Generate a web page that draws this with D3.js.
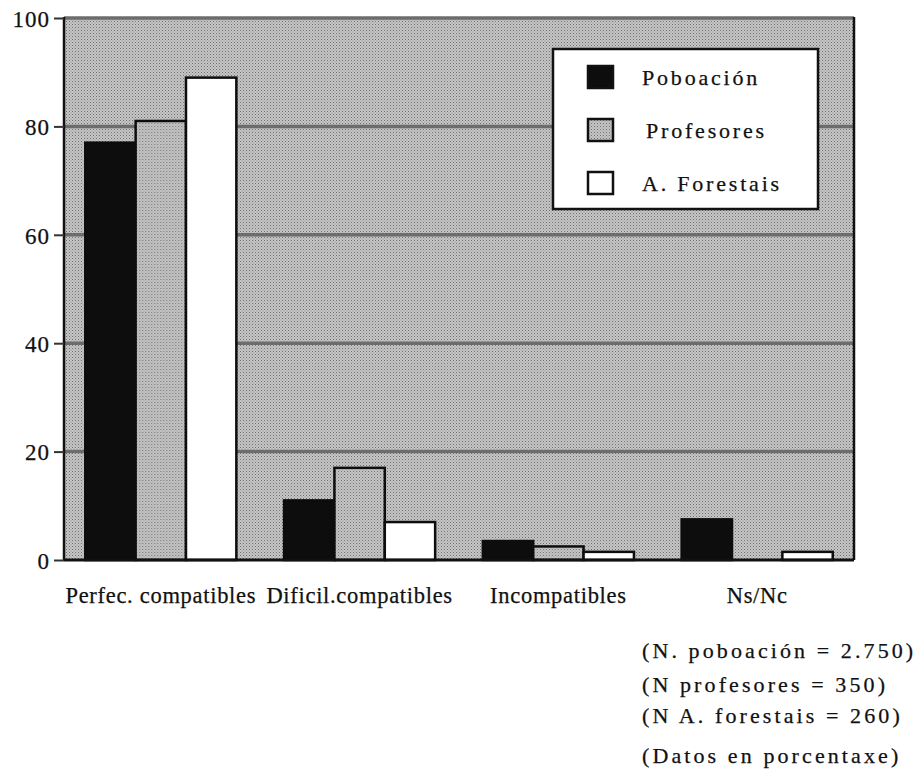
<!DOCTYPE html>
<html>
<head>
<meta charset="utf-8">
<script src="https://cdn.jsdelivr.net/npm/d3@7"></script>
<style>
  html, body { margin: 0; padding: 0; background: #fff; }
  svg { display: block; }
  text { font-family: "Liberation Serif", "DejaVu Serif", serif; fill: #111; stroke: #111; stroke-width: 0.25px; }
</style>
</head>
<body>
<script>
// ---- data ----
const categories = ["Perfec. compatibles", "Dificil.compatibles", "Incompatibles", "Ns/Nc"];
const seriesNames = ["Poboación", "Profesores", "A. Forestais"];
const poboacion   = [77, 11, 3.5, 7.5];
const profesores  = [81, 17, 2.5, 0];
const forestais   = [89, 7, 1.5, 1.5];
const yTicks = [0, 20, 40, 60, 80, 100];
const notes = ["(N. poboación = 2.750)", "(N profesores = 350)", "(N A. forestais = 260)", "(Datos en porcentaxe)"];

const seriesValues = [poboacion, profesores, forestais];

const W = 921, H = 778;
const margin = { left: 64, right: W - 854, top: 18, bottom: H - 560 };

const svg = d3.select("body").append("svg").attr("width", W).attr("height", H);

// halftone-like pattern
const defs = svg.append("defs");
const pat = defs.append("pattern").attr("id", "dots")
  .attr("width", 3).attr("height", 3).attr("patternUnits", "userSpaceOnUse");
pat.append("rect").attr("width", 3).attr("height", 3).attr("fill", "#c6c6c6");
pat.append("rect").attr("x", 0).attr("y", 0).attr("width", 1).attr("height", 1).attr("fill", "#6e6e6e");
pat.append("rect").attr("x", 1.5).attr("y", 1.5).attr("width", 1).attr("height", 1).attr("fill", "#8c8c8c");
defs.append("filter").attr("id", "soft").append("feGaussianBlur").attr("stdDeviation", 0.7);

const x0 = d3.scaleBand().domain(categories)
  .range([margin.left, W - margin.right]).paddingInner(0.24).paddingOuter(0.107);
const x1 = d3.scaleBand().domain(seriesNames).range([0, x0.bandwidth()]);
const y = d3.scaleLinear().domain([0, 100]).range([H - margin.bottom, margin.top]);

const fills = ["#0d0d0d", "url(#dots)", "#ffffff"];

// plot background
svg.append("rect")
  .attr("x", margin.left).attr("y", y(100))
  .attr("width", W - margin.right - margin.left).attr("height", y(0) - y(100))
  .attr("fill", "url(#dots)");

// gridlines
svg.append("g").attr("filter", "url(#soft)")
  .selectAll("line").data(yTicks.filter(d => d > 0)).join("line")
  .attr("x1", margin.left).attr("x2", W - margin.right)
  .attr("y1", d => y(d)).attr("y2", d => y(d))
  .attr("stroke", "#6c6c6c").attr("stroke-width", 3.5);

// bars
const groups = svg.append("g").selectAll("g").data(categories).join("g")
  .attr("transform", d => `translate(${x0(d)},0)`);
groups.selectAll("rect")
  .data((c, ci) => seriesNames.map((s, si) => ({ s, si, v: seriesValues[si][ci] })))
  .join("rect")
  .filter(d => d.v > 0)
  .attr("x", d => x1(d.s)).attr("width", x1.bandwidth())
  .attr("y", d => y(d.v)).attr("height", d => y(0) - y(d.v))
  .attr("fill", d => fills[d.si])
  .attr("stroke", "#0d0d0d").attr("stroke-width", 2.5);

// frame: right border, bottom axis
svg.append("line").attr("x1", W - margin.right).attr("x2", W - margin.right)
  .attr("y1", y(100) - 1).attr("y2", y(0))
  .attr("stroke", "#111").attr("stroke-width", 2.5);
svg.append("line").attr("x1", margin.left).attr("x2", W - margin.right)
  .attr("y1", y(0)).attr("y2", y(0))
  .attr("stroke", "#111").attr("stroke-width", 3);

const yAxis = d3.axisLeft(y).tickValues(yTicks).tickSize(10).tickPadding(4);
const ya = svg.append("g").attr("transform", `translate(${margin.left},0)`).call(yAxis);
ya.select(".domain").attr("stroke", "#111").attr("stroke-width", 2.5).attr("d", `M-0,${y(100) - 1}V${y(0) + 1}`);
ya.selectAll(".tick line").attr("stroke", "#333").attr("stroke-width", 2);
ya.selectAll(".tick text")
  .style("font-family", "'Liberation Serif', serif")
  .style("font-size", "23px").style("letter-spacing", "1px")
  .attr("fill", "#111").attr("dy", "0.36em");

// category labels
const xAxis = d3.axisBottom(x0).tickSize(0).tickPadding(0);
const xa = svg.append("g").attr("transform", `translate(0,${y(0)})`).call(xAxis);
xa.select(".domain").remove();
xa.selectAll(".tick text")
  .attr("y", 43).attr("dy", 0)
  .style("font-family", "'Liberation Serif', serif")
  .style("font-size", "22.5px").style("letter-spacing", "0.7px")
  .attr("fill", "#111");

// legend
const lg = svg.append("g");
lg.append("rect").attr("x", 553).attr("y", 49).attr("width", 265).attr("height", 160)
  .attr("fill", "#fff").attr("stroke", "#111").attr("stroke-width", 2.5);
const legendRows = [77, 130, 183];
seriesNames.forEach((s, i) => {
  lg.append("rect").attr("x", 588).attr("y", legendRows[i] - 11).attr("width", 25).attr("height", 22)
    .attr("fill", fills[i]).attr("stroke", "#111").attr("stroke-width", 2.5);
  lg.append("text").attr("x", i === 1 ? 646 : 642).attr("y", legendRows[i] + 8)
    .style("font-size", "22px").style("letter-spacing", "2.8px")
    .text(s);
});

// notes
const noteY = [658, 692, 723, 763];
svg.append("g").selectAll("text").data(notes).join("text")
  .attr("x", 642).attr("y", (d, i) => noteY[i])
  .style("font-size", "22px").style("letter-spacing", "3.1px")
  .text(d => d);
</script>
</body>
</html>
